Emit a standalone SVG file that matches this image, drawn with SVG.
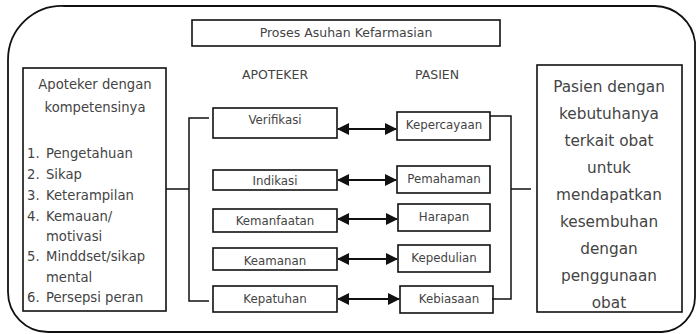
<svg xmlns="http://www.w3.org/2000/svg" width="697" height="334" viewBox="0 0 697 334">
  <defs>
    <marker id="head" viewBox="0 0 12 12" refX="11" refY="6" markerWidth="12" markerHeight="12" markerUnits="userSpaceOnUse" orient="auto-start-reverse">
      <path d="M0,0 L12,6 L0,12 Z" fill="#111"/>
    </marker>
  </defs>
  <style>
    text { font-family: "DejaVu Sans", "Liberation Sans", sans-serif; fill: #444; }
    .box { fill: #fff; stroke: #111; stroke-width: 1.6; }
    .line { fill: none; stroke: #111; stroke-width: 1.5; }
    .arrow { fill: none; stroke: #111; stroke-width: 2.2; marker-start: url(#head); marker-end: url(#head); }
    .lbl { font-size: 11.8px; text-anchor: middle; }
    .head { font-size: 12.5px; text-anchor: middle; }
    .side { font-size: 13.2px; }
    .big { font-size: 15.3px; text-anchor: middle; }
  </style>

  <rect width="697" height="334" fill="#fff"/>

  <!-- outer frame -->
  <path id="frame" d="M65,6 H655 A41,41 0 0 1 695,42 V297 A35,35 0 0 1 662,332 H48 A40,40 0 0 1 8,292 V60 A54,54 0 0 1 65,6 Z" fill="none" stroke="#111" stroke-width="1.8"/>

  <g id="title">
    <rect class="box" x="192" y="20" width="308" height="26"/>
    <text class="head" x="346" y="37">Proses Asuhan Kefarmasian</text>
  </g>

  <text class="head" x="275" y="79">APOTEKER</text>
  <text class="head" x="437" y="79">PASIEN</text>

  <g id="apoteker-box">
    <rect class="box" x="23" y="68" width="143" height="243"/>
    <text class="side" x="95" y="89" text-anchor="middle">Apoteker dengan</text>
    <text class="side" x="95" y="112" text-anchor="middle">kompetensinya</text>
    <text class="side" x="27" y="158">1.</text><text class="side" x="46" y="158">Pengetahuan</text>
    <text class="side" x="27" y="179">2.</text><text class="side" x="46" y="179">Sikap</text>
    <text class="side" x="27" y="200">3.</text><text class="side" x="46" y="200">Keterampilan</text>
    <text class="side" x="27" y="221">4.</text><text class="side" x="46" y="221">Kemauan/</text>
    <text class="side" x="46" y="241">motivasi</text>
    <text class="side" x="27" y="261">5.</text><text class="side" x="46" y="261">Minddset/sikap</text>
    <text class="side" x="46" y="282">mental</text>
    <text class="side" x="27" y="302">6.</text><text class="side" x="46" y="302">Persepsi peran</text>
  </g>

  <g id="pasien-box">
    <rect class="box" x="537" y="65" width="145" height="247"/>
    <text class="big" x="609" y="92">Pasien dengan</text>
    <text class="big" x="609" y="119">kebutuhanya</text>
    <text class="big" x="609" y="146">terkait obat</text>
    <text class="big" x="609" y="173">untuk</text>
    <text class="big" x="609" y="200">mendapatkan</text>
    <text class="big" x="609" y="227">kesembuhan</text>
    <text class="big" x="609" y="254">dengan</text>
    <text class="big" x="609" y="281">penggunaan</text>
    <text class="big" x="609" y="308">obat</text>
  </g>

  <g id="verifikasi"><rect class="box" x="213" y="108" width="124" height="30"/><text class="lbl" x="275" y="124">Verifikasi</text></g>
  <g id="indikasi"><rect class="box" x="213" y="170" width="124" height="20"/><text class="lbl" x="275" y="185">Indikasi</text></g>
  <g id="kemanfaatan"><rect class="box" x="213" y="209" width="124" height="23"/><text class="lbl" x="275" y="225">Kemanfaatan</text></g>
  <g id="keamanan"><rect class="box" x="213" y="248" width="124" height="22"/><text class="lbl" x="275" y="265">Keamanan</text></g>
  <g id="kepatuhan"><rect class="box" x="213" y="286" width="124" height="26"/><text class="lbl" x="275" y="303">Kepatuhan</text></g>

  <g id="kepercayaan"><rect class="box" x="397" y="112" width="93" height="28"/><text class="lbl" x="444" y="129">Kepercayaan</text></g>
  <g id="pemahaman"><rect class="box" x="397" y="166" width="93" height="27"/><text class="lbl" x="444" y="183">Pemahaman</text></g>
  <g id="harapan"><rect class="box" x="398" y="204" width="92" height="27"/><text class="lbl" x="444" y="221">Harapan</text></g>
  <g id="kepedulian"><rect class="box" x="398" y="245" width="92" height="27"/><text class="lbl" x="444" y="262">Kepedulian</text></g>
  <g id="kebiasaan"><rect class="box" x="400" y="286" width="93" height="27"/><text class="lbl" x="449" y="303">Kebiasaan</text></g>

  <g id="connectors">
    <!-- left bracket -->
    <path class="line" d="M166,189 H189 M209,118 H189 V301 H209"/>
    <!-- right bracket -->
    <path class="line" d="M490,116 H511 V299 H492 M511,189 H531"/>
    <!-- two-way links -->
    <line class="arrow" x1="338" y1="129" x2="396" y2="129"/>
    <line class="arrow" x1="338" y1="180" x2="396" y2="180"/>
    <line class="arrow" x1="338" y1="219" x2="397" y2="219"/>
    <line class="arrow" x1="338" y1="259" x2="397" y2="259"/>
    <line class="arrow" x1="338" y1="299" x2="399" y2="299"/>
  </g>
</svg>
